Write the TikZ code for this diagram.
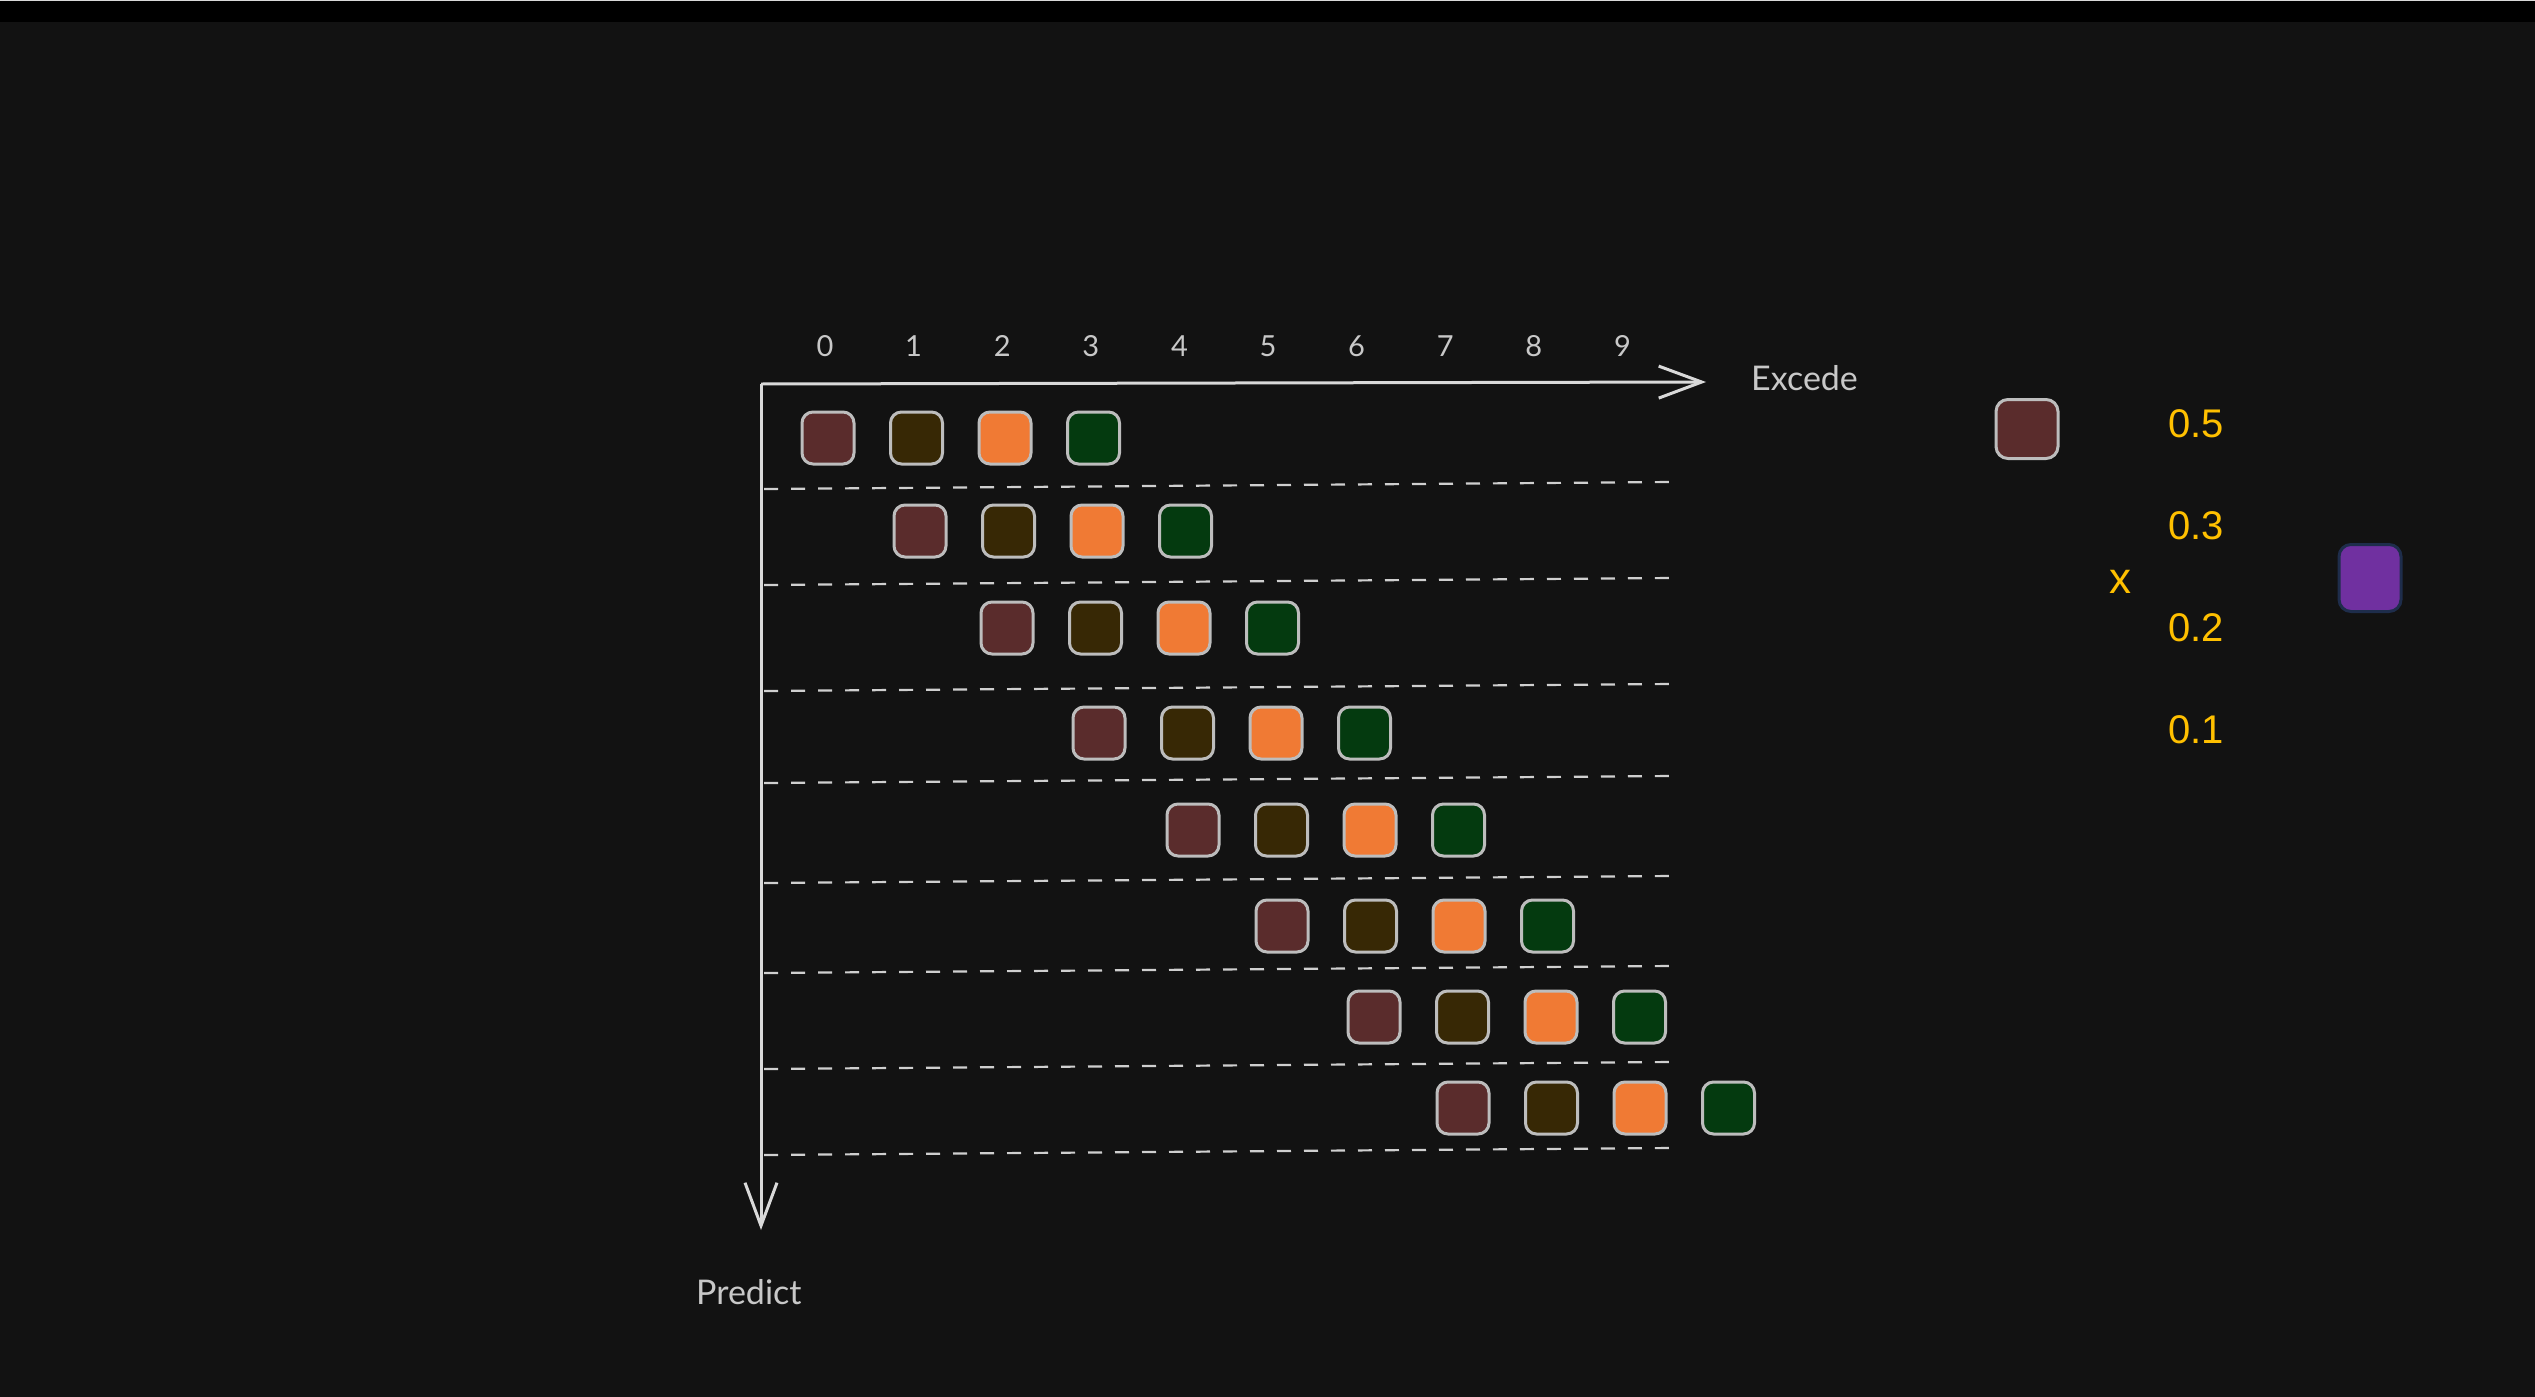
\documentclass[tikz,border=0pt]{standalone}
\usepackage{fontspec}
\setmainfont{Lato}
\newfontfamily\numfont{Liberation Sans}
\usetikzlibrary{arrows.meta}
\definecolor{bg}{HTML}{121212}
\definecolor{axisgray}{HTML}{D9D9D9}
\definecolor{txtgray}{HTML}{C8C8C8}
\definecolor{dashgray}{HTML}{CFCFCF}
\definecolor{sqborder}{HTML}{BDBDBD}
\definecolor{cbrown}{HTML}{5A2C2C}
\definecolor{colive}{HTML}{372805}
\definecolor{corange}{HTML}{F07A34}
\definecolor{cgreen}{HTML}{043A0F}
\definecolor{cpurple}{HTML}{7030A0}
\definecolor{cnavy}{HTML}{1E2D4B}
\definecolor{cyellow}{HTML}{FFC000}
\tikzset{
  sq/.style={draw=sqborder, line width=3pt, rounded corners=11pt, minimum width=52pt, minimum height=52pt, inner sep=0pt},
  bigsq/.style={line width=3pt, rounded corners=12pt, inner sep=0pt},
  axis/.style={draw=axisgray, line width=3pt, -{Straight Barb[length=43pt,width=32pt,line width=3pt]}},
  sep/.style={draw=dashgray, line width=2.2pt, dash pattern=on 14pt off 13pt},
  lbl/.style={text=txtgray, inner sep=0pt, font=\fontsize{29}{34}\selectfont},
  axlbl/.style={text=txtgray, inner sep=0pt, font=\fontsize{34}{40}\selectfont},
  ylbl/.style={text=cyellow, inner sep=0pt, font=\numfont\fontsize{40}{46}\selectfont}
}
\begin{document}
\begin{tikzpicture}[x=1pt,y=-1pt]
\useasboundingbox (0,0) rectangle (2535,1397);
\fill[bg] (0,0) rectangle (2535,1397);
\fill[black] (0,0) rectangle (2535,22);
\fill[axisgray] (0,0) rectangle (2535,1.5);

% axes
\coordinate (O) at (761,384);
\coordinate (xend) at (1706,382);
\coordinate (yend) at (761,1230);
\draw[axis] (O) -- (xend);
\draw[axis] (O) -- (yend);

\node[axlbl, anchor=base west] (excede) at (1751,390) {Excede};
\node[axlbl, anchor=base west] (predict) at (696,1304) {Predict};

% column labels
\foreach \k in {0,...,9} {
  \node[lbl] (c\k) at ({825+88.6*\k},346) {\k};
}

% dashed separators
\foreach \i/\yy in {1/489,2/585,3/691,4/783,5/883,6/973,7/1069,8/1155} {
  \coordinate (dl\i) at (764,\yy);
  \coordinate (dr\i) at (1672,\yy-7);
  \draw[sep] (dl\i) -- (dr\i);
}

% squares
\foreach \r/\yy/\xs in {1/438/828,2/531/920,3/628/1007,4/733/1099,5/830/1193,6/926/1282,7/1017/1374,8/1108/1463} {
  \node[sq, fill=cbrown]  (s\r a) at (\xs,\yy) {};
  \node[sq, fill=colive]  (s\r b) at (\xs+88.5,\yy) {};
  \node[sq, fill=corange] (s\r c) at (\xs+177,\yy) {};
  \node[sq, fill=cgreen]  (s\r d) at (\xs+265.5,\yy) {};
}

% right side
\node[bigsq, draw=sqborder, fill=cbrown, minimum width=62pt, minimum height=59pt] (rb) at (2027,429) {};
\node[bigsq, draw=cnavy, fill=cpurple, minimum width=62pt, minimum height=67pt] (rp) at (2370,578) {};
\node[ylbl] (v5) at (2196,424) {0.5};
\node[ylbl] (v3) at (2196,526) {0.3};
\node[ylbl] (v2) at (2196,628) {0.2};
\node[ylbl] (v1) at (2196,730) {0.1};
\node[ylbl, font=\numfont\fontsize{44}{50}\selectfont] (times) at (2120,582) {x};
\end{tikzpicture}
\end{document}
